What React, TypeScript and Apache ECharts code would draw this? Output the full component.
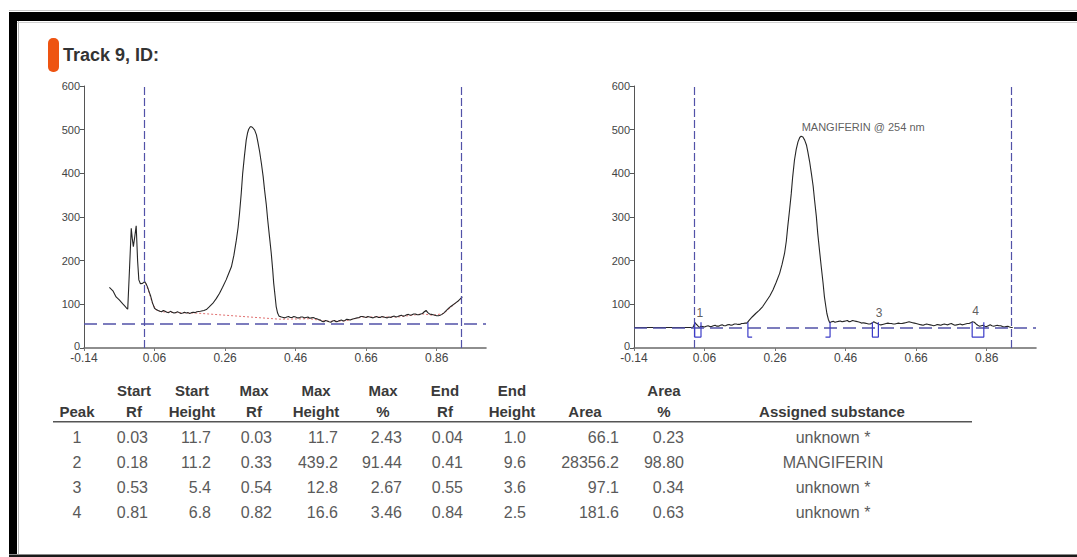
import React, { useEffect, useRef } from "react";
import * as echarts from "echarts";

// ---------- data ----------
const rfTicks = [-0.14, 0.06, 0.26, 0.46, 0.66, 0.86];
const trackLimits = [0.027, 0.933];
const leftThreshold = 56;
const rightThreshold = 47;

const leftScan: [number, number][] = [
  [-0.068, 139], [-0.058, 131], [-0.049, 117], [-0.04, 110], [-0.03, 101], [-0.024, 96], [-0.019, 91], [-0.016, 89],
  [-0.011, 180], [-0.006, 274], [-0.003, 250], [0.0, 232], [0.004, 255], [0.008, 280], [0.012, 200], [0.0155, 156],
  [0.02, 147], [0.026, 148], [0.032, 152], [0.036, 147], [0.04, 140], [0.045, 128], [0.049, 119], [0.054, 104], [0.06, 91],
  [0.065, 88], [0.07, 86], [0.075, 84], [0.08, 83], [0.085, 86], [0.09, 84], [0.095, 82], [0.1, 81], [0.105, 84], [0.11, 82],
  [0.115, 80], [0.12, 81], [0.125, 83], [0.13, 81], [0.135, 79], [0.14, 80], [0.145, 82], [0.15, 80], [0.155, 81], [0.16, 79],
  [0.165, 81], [0.17, 82], [0.175, 81], [0.18, 83], [0.19, 84], [0.2, 86], [0.207, 88], [0.215, 94], [0.225, 102], [0.235, 113],
  [0.244, 125], [0.253, 139], [0.263, 156], [0.27, 170], [0.278, 186], [0.285, 212], [0.292, 247], [0.297, 276], [0.301, 308],
  [0.306, 355], [0.31, 400], [0.315, 440], [0.32, 476], [0.324, 493], [0.327, 501], [0.331, 506], [0.334, 507], [0.338, 505],
  [0.344, 499], [0.349, 488], [0.353, 472], [0.358, 450], [0.363, 423], [0.368, 393], [0.372, 362], [0.377, 328], [0.381, 293],
  [0.386, 255], [0.391, 217], [0.395, 180], [0.398, 148], [0.402, 118], [0.405, 95], [0.409, 80], [0.413, 73],
  [0.42, 71], [0.425, 70], [0.43, 69], [0.435, 71], [0.44, 72], [0.445, 70], [0.45, 70], [0.455, 72], [0.46, 71], [0.465, 69],
  [0.47, 69], [0.475, 71], [0.48, 71], [0.485, 69], [0.49, 70], [0.495, 71], [0.5, 68], [0.505, 69], [0.51, 70], [0.515, 68],
  [0.52, 67], [0.525, 65], [0.53, 64], [0.535, 61], [0.54, 60], [0.545, 63], [0.55, 62], [0.555, 60], [0.56, 59], [0.565, 62],
  [0.57, 63], [0.575, 60], [0.58, 61], [0.585, 63], [0.59, 64], [0.595, 62], [0.6, 63], [0.605, 66], [0.61, 65], [0.615, 64],
  [0.62, 66], [0.625, 67], [0.63, 68], [0.635, 69], [0.64, 70], [0.645, 72], [0.65, 72], [0.655, 71], [0.66, 70], [0.665, 72],
  [0.67, 71], [0.675, 70], [0.68, 69], [0.685, 71], [0.69, 72], [0.695, 70], [0.7, 70], [0.705, 72], [0.71, 71], [0.715, 70],
  [0.72, 69], [0.725, 71], [0.73, 70], [0.735, 72], [0.74, 73], [0.745, 71], [0.75, 72], [0.755, 74], [0.76, 75], [0.765, 73],
  [0.77, 74], [0.775, 76], [0.78, 77], [0.785, 75], [0.79, 76], [0.795, 78], [0.8, 78], [0.805, 76], [0.81, 76], [0.815, 78],
  [0.82, 79], [0.825, 83], [0.83, 86], [0.835, 81], [0.84, 78], [0.845, 77], [0.85, 76], [0.855, 75], [0.86, 74], [0.865, 74],
  [0.87, 75], [0.875, 77], [0.88, 80], [0.885, 84], [0.89, 88], [0.895, 92], [0.9, 95], [0.905, 98], [0.91, 101], [0.915, 104],
  [0.92, 107], [0.925, 111], [0.93, 115], [0.933, 117],
];

const leftBaseline: [number, number][] = [
  [0.035, 148], [0.045, 126], [0.055, 100], [0.065, 87], [0.08, 83], [0.12, 81], [0.178, 80], [0.414, 66],
  [0.5, 67], [0.55, 61], [0.6, 62], [0.65, 71], [0.75, 71], [0.82, 78], [0.85, 75], [0.88, 79], [0.91, 100], [0.933, 116],
];

const rightScan: [number, number][] = [
  [0.027, 47], [0.03, 52], [0.033, 58], [0.036, 55], [0.04, 52], [0.045, 47], [0.05, 50], [0.055, 49], [0.06, 48], [0.065, 50],
  [0.07, 51], [0.075, 49], [0.08, 49], [0.085, 51], [0.09, 52], [0.095, 50], [0.1, 50], [0.105, 52], [0.11, 53], [0.115, 51],
  [0.12, 51], [0.125, 53], [0.13, 54], [0.135, 52], [0.14, 53], [0.145, 55], [0.15, 55], [0.155, 54], [0.16, 54], [0.165, 56],
  [0.17, 56], [0.175, 57], [0.18, 57], [0.187, 64], [0.195, 71], [0.205, 79], [0.215, 86], [0.225, 95], [0.235, 107],
  [0.245, 119], [0.254, 133], [0.263, 150], [0.273, 171], [0.28, 192], [0.287, 217], [0.292, 245], [0.296, 278], [0.301, 315],
  [0.306, 354], [0.31, 392], [0.315, 430], [0.32, 455], [0.325, 472], [0.33, 482], [0.334, 485], [0.339, 483], [0.344, 476],
  [0.349, 465], [0.353, 449], [0.358, 427], [0.363, 400], [0.368, 371], [0.372, 339], [0.377, 302], [0.381, 263], [0.386, 224],
  [0.391, 186], [0.396, 150], [0.4, 117], [0.404, 95], [0.407, 79], [0.411, 66], [0.415, 58],
  [0.42, 60], [0.425, 61], [0.43, 59], [0.435, 60], [0.44, 61], [0.445, 62], [0.45, 60], [0.455, 61], [0.46, 62], [0.465, 63],
  [0.47, 60], [0.475, 61], [0.48, 63], [0.485, 62], [0.49, 61], [0.495, 60], [0.5, 59], [0.505, 57], [0.51, 58], [0.515, 57],
  [0.52, 56], [0.525, 55], [0.53, 55], [0.535, 57], [0.54, 60], [0.545, 58], [0.55, 56], [0.555, 54], [0.56, 53], [0.565, 54],
  [0.57, 55], [0.575, 56], [0.58, 57], [0.585, 56], [0.59, 56], [0.595, 55], [0.6, 55], [0.605, 56], [0.61, 57], [0.615, 56],
  [0.62, 56], [0.625, 57], [0.63, 58], [0.635, 59], [0.64, 60], [0.645, 59], [0.65, 58], [0.655, 57], [0.66, 56], [0.665, 55],
  [0.67, 54], [0.675, 53], [0.68, 52], [0.685, 54], [0.69, 55], [0.695, 54], [0.7, 53], [0.705, 52], [0.71, 51], [0.715, 52],
  [0.72, 54], [0.725, 53], [0.73, 52], [0.735, 54], [0.74, 55], [0.745, 54], [0.75, 53], [0.755, 55], [0.76, 56], [0.765, 54],
  [0.77, 52], [0.775, 53], [0.78, 54], [0.785, 55], [0.79, 53], [0.795, 54], [0.8, 55], [0.805, 56], [0.81, 56], [0.815, 58],
  [0.82, 60], [0.825, 59], [0.83, 55], [0.835, 52], [0.84, 50], [0.845, 51], [0.85, 52], [0.855, 50], [0.86, 49], [0.865, 51],
  [0.87, 53], [0.875, 51], [0.88, 50], [0.885, 51], [0.89, 52], [0.895, 51], [0.9, 51], [0.905, 49], [0.91, 48], [0.915, 49],
  [0.92, 50], [0.925, 48], [0.93, 47], [0.934, 47],
];

// integration marks (peak boxes and brackets) on the right scan
const boxTop = 59;
const boxBottom = 25;
const peakBoxes: [number, number][] = [[0.032, 0.05], [0.536, 0.553], [0.819, 0.852]];
const bracketOpen = [0.183, 0.195];
const bracketClose = [0.403, 0.416];
const peakLabels = [
  { name: "1", rf: 0.047, h: 80 },
  { name: "3", rf: 0.555, h: 80 },
  { name: "4", rf: 0.829, h: 84 },
];
const substanceLabel = { text: "MANGIFERIN @ 254 nm", rf: 0.334, h: 507 };

// table
const peakNo = [1, 2, 3, 4];
const startRf = [0.03, 0.18, 0.53, 0.81];
const startHeight = [11.7, 11.2, 5.4, 6.8];
const maxRf = [0.03, 0.33, 0.54, 0.82];
const maxHeight = [11.7, 439.2, 12.8, 16.6];
const maxPct = [2.43, 91.44, 2.67, 3.46];
const endRf = [0.04, 0.41, 0.55, 0.84];
const endHeight = [1.0, 9.6, 3.6, 2.5];
const area = [66.1, 28356.2, 97.1, 181.6];
const areaPct = [0.23, 98.8, 0.34, 0.63];
const substance = ["unknown *", "MANGIFERIN", "unknown *", "unknown *"];

const FONT = "'Liberation Sans', Arial, Helvetica, sans-serif";
const DASH_BLUE = "#5252A8";

function buildOption() {
  const grids = [
    { left: 84, top: 86, width: 402, height: 262 },
    { left: 634, top: 86, width: 402, height: 262 },
  ];
  const xAxes = [0, 1].map((i) => ({
    type: "value",
    gridIndex: i,
    min: -0.14,
    max: 1.0,
    axisLine: { show: true, onZero: false, lineStyle: { color: "#6a6a6a", width: 1.6 } },
    axisTick: { show: true, customValues: rfTicks, length: 3, lineStyle: { color: "#777" } },
    axisLabel: {
      customValues: rfTicks,
      formatter: (v: number) => v.toFixed(2),
      fontSize: 12,
      lineHeight: 12,
      color: "#444",
      margin: 4,
      fontFamily: FONT,
    },
    splitLine: { show: false },
  }));
  const yAxes = [0, 1].map((i) => ({
    type: "value",
    gridIndex: i,
    min: 0,
    max: 600,
    interval: 100,
    axisLine: { show: true, onZero: false, lineStyle: { color: "#555", width: 1 } },
    axisTick: { show: true, length: 4, lineStyle: { color: "#555" } },
    axisLabel: {
      fontSize: 11,
      lineHeight: 11,
      color: "#444",
      margin: 4,
      fontFamily: FONT,
      formatter: (v: number) => (v === 0 ? "{z|0}" : String(v)),
      rich: { z: { fontSize: 11, lineHeight: 11, color: "#444", fontFamily: FONT, padding: [0, 0, 5, 0] } },
    },
    splitLine: { show: false },
  }));

  const limitLines = (threshold: number) => ({
    symbol: "none",
    silent: true,
    label: { show: false },
    animation: false,
    data: [
      ...trackLimits.map((x) => ({ xAxis: x, lineStyle: { color: DASH_BLUE, width: 1.2, type: [8, 3] } })),
      { yAxis: threshold, lineStyle: { color: DASH_BLUE, width: 1.5, type: [13, 6] } },
    ],
  });

  const series: any[] = [
    {
      type: "line",
      xAxisIndex: 0,
      yAxisIndex: 0,
      data: leftBaseline,
      symbol: "none",
      lineStyle: { color: "#E07070", width: 1, type: [2, 2] },
      z: 2,
    },
    {
      type: "line",
      xAxisIndex: 0,
      yAxisIndex: 0,
      data: leftScan,
      symbol: "none",
      lineStyle: { color: "#262626", width: 1.1 },
      z: 3,
      markLine: limitLines(leftThreshold),
    },
    {
      type: "line",
      xAxisIndex: 1,
      yAxisIndex: 1,
      data: rightScan,
      symbol: "none",
      lineStyle: { color: "#262626", width: 1.1 },
      z: 3,
      markLine: limitLines(rightThreshold),
    },
    {
      type: "line",
      xAxisIndex: 1,
      yAxisIndex: 1,
      data: [[-0.14, rightThreshold], [trackLimits[0], rightThreshold]],
      symbol: "none",
      lineStyle: { color: "#222", width: 1.2 },
      z: 4,
    },
    ...peakBoxes.map(([a, b]) => ({
      type: "line",
      xAxisIndex: 1,
      yAxisIndex: 1,
      data: [[a, boxTop], [a, boxBottom], [b, boxBottom], [b, boxTop]],
      symbol: "none",
      lineStyle: { color: "#3C3CC8", width: 1.2 },
      z: 5,
    })),
    {
      type: "line",
      xAxisIndex: 1,
      yAxisIndex: 1,
      data: [[bracketOpen[0], boxTop], [bracketOpen[0], boxBottom], [bracketOpen[1], boxBottom]],
      symbol: "none",
      lineStyle: { color: "#3C3CC8", width: 1.2 },
      z: 5,
    },
    {
      type: "line",
      xAxisIndex: 1,
      yAxisIndex: 1,
      data: [[bracketClose[0], boxBottom], [bracketClose[1], boxBottom], [bracketClose[1], boxTop]],
      symbol: "none",
      lineStyle: { color: "#3C3CC8", width: 1.2 },
      z: 5,
    },
    {
      type: "scatter",
      xAxisIndex: 1,
      yAxisIndex: 1,
      symbolSize: 1,
      itemStyle: { color: "rgba(0,0,0,0)" },
      data: peakLabels.map((p) => ({ name: p.name, value: [p.rf, p.h] })),
      label: { show: true, position: "inside", formatter: "{b}", fontSize: 12, color: "#333", fontFamily: FONT },
      z: 6,
    },
    {
      type: "scatter",
      xAxisIndex: 1,
      yAxisIndex: 1,
      symbolSize: 1,
      itemStyle: { color: "rgba(0,0,0,0)" },
      data: [{ name: substanceLabel.text, value: [substanceLabel.rf, substanceLabel.h] }],
      label: { show: true, position: "right", distance: 0, formatter: "{b}", fontSize: 11, color: "#333", fontFamily: FONT },
      z: 6,
    },
  ];

  // ----- table (text) -----
  const rows = peakNo.map((_, i) => i);
  const cols = [
    { h1: "", h2: "Peak", hx: 77, dx: 77, align: "center", vals: peakNo.map((v) => String(v)) },
    { h1: "Start", h2: "Rf", hx: 134, dx: 148, align: "right", vals: startRf.map((v) => v.toFixed(2)) },
    { h1: "Start", h2: "Height", hx: 192, dx: 211, align: "right", vals: startHeight.map((v) => v.toFixed(1)) },
    { h1: "Max", h2: "Rf", hx: 254, dx: 272, align: "right", vals: maxRf.map((v) => v.toFixed(2)) },
    { h1: "Max", h2: "Height", hx: 316, dx: 338, align: "right", vals: maxHeight.map((v) => v.toFixed(1)) },
    { h1: "Max", h2: "%", hx: 383, dx: 402, align: "right", vals: maxPct.map((v) => v.toFixed(2)) },
    { h1: "End", h2: "Rf", hx: 445, dx: 463, align: "right", vals: endRf.map((v) => v.toFixed(2)) },
    { h1: "End", h2: "Height", hx: 512, dx: 526, align: "right", vals: endHeight.map((v) => v.toFixed(1)) },
    { h1: "", h2: "Area", hx: 585, dx: 619, align: "right", vals: area.map((v) => v.toFixed(1)) },
    { h1: "Area", h2: "%", hx: 664, dx: 684, align: "right", vals: areaPct.map((v) => v.toFixed(2)) },
    { h1: "", h2: "Assigned substance", hx: 832, dx: 833, align: "center", vals: substance },
  ];
  const headerY1 = 390;
  const headerY2 = 411;
  const rowY = [437, 462, 487, 512];

  const tableEls: any[] = [];
  cols.forEach((c) => {
    if (c.h1)
      tableEls.push({
        type: "text",
        x: c.hx,
        y: headerY1,
        style: { text: c.h1, fill: "#3a3a3a", fontSize: 15, fontWeight: "bold", fontFamily: FONT, align: "center", verticalAlign: "middle" },
      });
    tableEls.push({
      type: "text",
      x: c.hx,
      y: headerY2,
      style: { text: c.h2, fill: "#3a3a3a", fontSize: 15, fontWeight: "bold", fontFamily: FONT, align: "center", verticalAlign: "middle" },
    });
    rows.forEach((r) => {
      tableEls.push({
        type: "text",
        x: c.dx,
        y: rowY[r],
        style: { text: c.vals[r], fill: "#5a5a5a", fontSize: 16, fontFamily: FONT, align: c.align, verticalAlign: "middle" },
      });
    });
  });

  const graphic: any[] = [
    // frame
    { type: "rect", shape: { x: 9, y: 10, width: 1068, height: 1 }, style: { fill: "#c8c8c8" } },
    { type: "rect", shape: { x: 9, y: 12, width: 1068, height: 9 }, style: { fill: "#000" } },
    { type: "rect", shape: { x: 9, y: 12, width: 8, height: 545 }, style: { fill: "#000" } },
    { type: "rect", shape: { x: 18, y: 21, width: 1, height: 533 }, style: { fill: "#b5b5b5" } },
    { type: "rect", shape: { x: 17, y: 22, width: 1060, height: 1 }, style: { fill: "#d0d0d0" } },
    { type: "rect", shape: { x: 9, y: 554, width: 1068, height: 1 }, style: { fill: "#8a8a8a" } },
    { type: "rect", shape: { x: 9, y: 555, width: 1068, height: 2 }, style: { fill: "#1a1a1a" } },
    // title
    { type: "rect", shape: { x: 48, y: 38, width: 11, height: 34, r: 5 }, style: { fill: "#EE5412" } },
    {
      type: "text",
      x: 63,
      y: 55,
      style: { text: "Track 9, ID:", fill: "#333", fontSize: 18, fontWeight: "bold", fontFamily: FONT, align: "left", verticalAlign: "middle" },
    },
    // table rule
    { type: "rect", shape: { x: 53, y: 421, width: 919, height: 1.5 }, style: { fill: "#555" } },
    ...tableEls,
  ];

  return {
    animation: false,
    backgroundColor: "#ffffff",
    textStyle: { fontFamily: FONT },
    grid: grids,
    xAxis: xAxes,
    yAxis: yAxes,
    series,
    graphic,
  };
}

export default function App() {
  const ref = useRef<HTMLDivElement>(null);
  useEffect(() => {
    if (!ref.current) return;
    const chart = echarts.init(ref.current, null, { renderer: "svg" });
    chart.setOption(buildOption() as any);
    return () => chart.dispose();
  }, []);
  return (
    <div
      ref={ref}
      style={{ position: "fixed", left: 0, top: 0, width: 1077, height: 557, background: "#fff" }}
    />
  );
}
